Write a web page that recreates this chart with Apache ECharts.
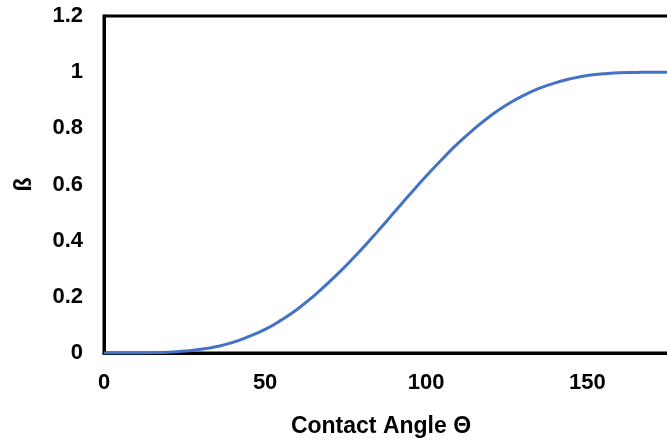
<!DOCTYPE html>
<html>
<head>
<meta charset="utf-8">
<script src="https://cdn.jsdelivr.net/npm/echarts@6/dist/echarts.min.js"></script>
<style>
html,body{margin:0;padding:0;overflow:hidden;background:#fff;width:667px;height:443px;}
#c{width:700px;height:443px;}
</style>
</head>
<body>
<div id="c"></div>
<script>
// Data
const angles = [0, 5, 10, 15, 20, 25, 30, 35, 40, 45, 50, 55, 60, 65, 70, 75, 80, 85, 90, 95, 100, 105, 110, 115, 120, 125, 130, 135, 140, 145, 150, 155, 160, 165, 170, 175, 180];
const beta = [0, 0, 0.0002, 0.001, 0.003, 0.007, 0.013, 0.023, 0.038, 0.059, 0.084, 0.117, 0.156, 0.202, 0.254, 0.31, 0.37, 0.434, 0.5, 0.566, 0.63, 0.691, 0.748, 0.799, 0.845, 0.884, 0.916, 0.942, 0.962, 0.977, 0.988, 0.994, 0.998, 0.999, 1.0, 1.0, 1.0];
const xTicks = [0, 50, 100, 150];
const yTicks = [0, 0.2, 0.4, 0.6, 0.8, 1, 1.2];
const xTitle = 'Contact Angle \u0398';
const yTitle = '\u00DF';

const chart = echarts.init(document.getElementById('c'), null, {renderer: 'canvas'});
const font = 'Liberation Sans, Arial, sans-serif';
chart.setOption({
  animation: false,
  grid: {left: 104, top: 16, right: 16, bottom: 90, show: true, borderColor: '#000', borderWidth: 3, containLabel: false},
  xAxis: {
    type: 'value', min: 0, max: 180, interval: 50,
    name: xTitle, nameLocation: 'middle', nameGap: 62,
    nameTextStyle: {fontFamily: font, fontWeight: 'bold', fontSize: 23, color: '#000', padding: [0, 26, 0, 0]},
    axisLine: {show: true, lineStyle: {color: '#000', width: 3}},
    axisTick: {show: false},
    splitLine: {show: false},
    axisLabel: {fontFamily: font, fontWeight: 'bold', fontSize: 22, color: '#000', margin: 19,
      formatter: v => xTicks.includes(v) ? String(v) : ''}
  },
  yAxis: {
    type: 'value', min: 0, max: 1.2, interval: 0.2,
    name: yTitle, nameLocation: 'middle', nameGap: 68,
    nameTextStyle: {fontFamily: font, fontWeight: 'bold', fontSize: 23, color: '#000'},
    axisLine: {show: true, lineStyle: {color: '#000', width: 3}},
    axisTick: {show: false},
    splitLine: {show: false},
    axisLabel: {fontFamily: font, fontWeight: 'bold', fontSize: 22, color: '#000', margin: 21,
      formatter: v => { const t = yTicks.find(k => Math.abs(k - v) < 1e-9); return t === undefined ? '' : String(t); }}
  },
  series: [{
    type: 'line', smooth: true, showSymbol: false,
    data: angles.map((a, i) => [a, beta[i]]),
    lineStyle: {color: '#4472C4', width: 3},
    z: 1
  }]
});
</script>
</body>
</html>
